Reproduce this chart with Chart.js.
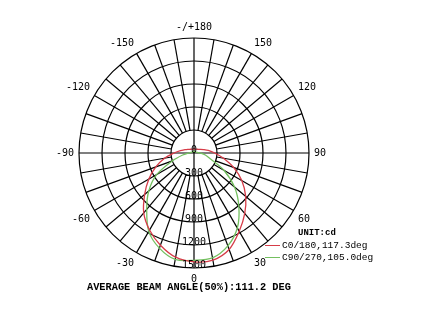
<!DOCTYPE html>
<html>
<head>
<meta charset="utf-8">
<script src="https://cdn.jsdelivr.net/npm/chart.js@4"></script>
<style>
  html, body { margin: 0; padding: 0; background: #fff; }
  #wrap { position: relative; width: 424px; height: 317px; overflow: hidden; }
  #polar { position: absolute; left: 0; top: 0; }
  .txt { position: absolute; font-family: "Liberation Mono", monospace; color: #000; white-space: nowrap; line-height: 1; }
  .unit { left: 298px; top: 229px; font-size: 9px; font-weight: bold; }
  .item { left: 265px; font-size: 9.5px; }
  .item i { display: inline-block; width: 15px; height: 1px; vertical-align: middle; margin-right: 2px; }
  .title { left: 87px; top: 282px; font-size: 10.3px; font-weight: bold; }
</style>
</head>
<body>
<div id="wrap">
  <canvas id="polar" width="424" height="317"></canvas>
  <div class="txt unit">UNIT:cd</div>
  <div class="txt item" style="top:241px"><i style="background:#d63c48"></i>C0/180,117.3deg</div>
  <div class="txt item" style="top:253px"><i style="background:#74c060"></i>C90/270,105.0deg</div>
  <div class="txt title">AVERAGE BEAM ANGLE(50%):111.2 DEG</div>
</div>
<script>
// gamma angles, clockwise from the top of the diagram
const angles = [180, 170, 160, 150, 140, 130, 120, 110, 100, 90, 80, 70, 60, 50, 40, 30, 20, 10,
    0, -10, -20, -30, -40, -50, -60, -70, -80, -90, -100, -110, -120, -130, -140, -150, -160, -170];

// candela values, same order as angles
const c0_180 = [50, 52, 54, 58, 64, 75, 95, 130, 190, 270, 390, 550, 720, 880, 1030, 1180, 1340, 1420,
    1420, 1380, 1280, 1160, 1020, 840, 680, 530, 390, 260, 180, 125, 95, 75, 64, 58, 54, 52];
const c90_270 = [20, 20, 20, 20, 20, 22, 25, 30, 45, 80, 150, 230, 450, 690, 910, 1130, 1290, 1390,
    1400, 1410, 1320, 1180, 960, 770, 560, 300, 150, 70, 40, 30, 25, 22, 20, 20, 20, 20];

const ringValues = [0, 300, 600, 900, 1200, 1500];
const maxCd = 1500;

function angleLabel(a) {
    if (a % 30 !== 0) return '';
    return a === 180 ? '-/+180' : String(a);
}

// spokes from the first ring outwards, the four main axes go through the centre
const spokes = {
    id: 'spokes',
    beforeDatasetsDraw(chart) {
        const r = chart.scales.r;
        const ctx = chart.ctx;
        ctx.save();
        ctx.strokeStyle = '#000';
        ctx.lineWidth = 1.2;
        angles.forEach((a, i) => {
            const from = a % 90 === 0 ? 0 : ringValues[1];
            const p0 = r.getPointPositionForValue(i, from);
            const p1 = r.getPointPositionForValue(i, maxCd);
            ctx.beginPath();
            ctx.moveTo(p0.x, p0.y);
            ctx.lineTo(p1.x, p1.y);
            ctx.stroke();
        });
        ctx.restore();
    },
    afterDatasetsDraw(chart) {
        // ring values written downwards along the 0 deg axis
        const r = chart.scales.r;
        const ctx = chart.ctx;
        const down = angles.indexOf(0);
        ctx.save();
        ctx.font = '10px "DejaVu Sans Mono"';
        ctx.fillStyle = '#000';
        ctx.textAlign = 'center';
        ctx.textBaseline = 'middle';
        ringValues.forEach(v => {
            const p = r.getPointPositionForValue(down, v);
            ctx.fillText(String(v), p.x, p.y - 3);
        });
        ctx.restore();
    }
};

new Chart(document.getElementById('polar'), {
    type: 'radar',
    data: {
        labels: angles.map(angleLabel),
        datasets: [
            { label: 'C0/180', data: c0_180, borderColor: '#d63c48' },
            { label: 'C90/270', data: c90_270, borderColor: '#74c060' }
        ]
    },
    options: {
        responsive: false,
        animation: false,
        devicePixelRatio: 1,
        layout: { padding: { left: 40, right: 78, top: 21, bottom: 32 } },
        elements: {
            line: { borderWidth: 1.3, fill: false, tension: 0.3 },
            point: { radius: 0 }
        },
        plugins: { legend: { display: false }, tooltip: { enabled: false } },
        scales: {
            r: {
                min: 0,
                max: maxCd,
                ticks: { stepSize: 300, display: false },
                grid: { circular: true, color: '#000', lineWidth: 1.2 },
                angleLines: { display: false },
                pointLabels: {
                    padding: 5,
                    color: '#000',
                    font: { family: 'DejaVu Sans Mono', size: 10 }
                }
            }
        }
    },
    plugins: [spokes]
});
</script>
</body>
</html>
